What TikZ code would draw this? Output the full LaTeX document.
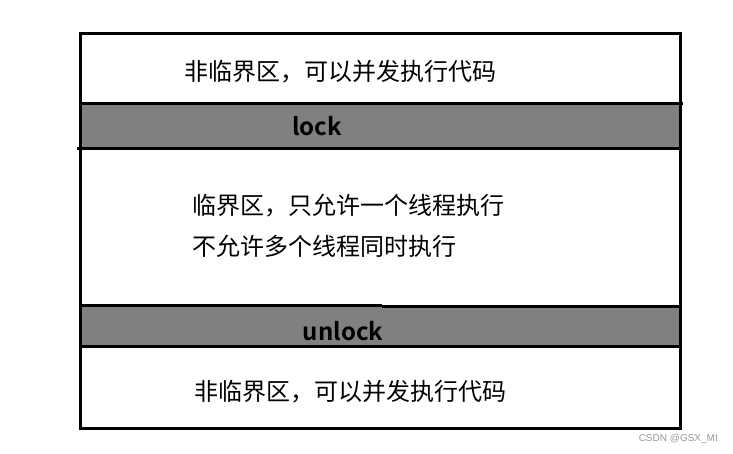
\documentclass[tikz,border=0pt]{standalone}
\usepackage{fontspec}
\newfontfamily\cjk{Noto Sans CJK SC}
\newfontfamily\cjkb{Noto Sans CJK SC Bold}
\newfontfamily\wm{Liberation Sans}
\begin{document}
\begin{tikzpicture}[x=1pt,y=-1pt,
  frame/.style={line width=3pt},
  band/.style={fill=gray},
  cjktext/.style={font=\cjk\fontsize{24}{28}\selectfont, inner sep=0pt, anchor=base},
  tagtext/.style={font=\cjkb\fontsize{24}{28}\selectfont, inner sep=0pt, anchor=base},
  marktext/.style={font=\wm\fontsize{10}{12}\selectfont, text=black!40, inner sep=0pt, anchor=base east}]
\useasboundingbox (0,0) rectangle (733,454);
% gray bands
\fill[band] (80,104) rectangle (680,149);
\fill[band] (80,306) rectangle (680,346);
% outer frame
\draw[frame] (80,34) rectangle (680,428);
% separators
\draw[frame] (80,104) -- (683,104);
\draw[frame] (77,149) -- (680,149);
\draw[frame] (80,305.5) -- (382,305.5);
\draw[frame] (382,306.5) -- (680,306.5);
\draw[frame] (80,346) -- (680,346);
% texts
\node[cjktext] (top) at (340,81) {非临界区，可以并发执行代码};
\node[tagtext] (lock) at (317,136) {lock};
\node[cjktext, anchor=base west] (crit1) at (192,215) {临界区，只允许一个线程执行};
\node[cjktext, anchor=base west] (crit2) at (192,255) {不允许多个线程同时执行};
\node[tagtext] (unlock) at (343,340) {unlock};
\node[cjktext] (bottom) at (350.5,400) {非临界区，可以并发执行代码};
\node[marktext] (mark) at (718,441) {CSDN @GSX\_MI};
\end{tikzpicture}
\end{document}
